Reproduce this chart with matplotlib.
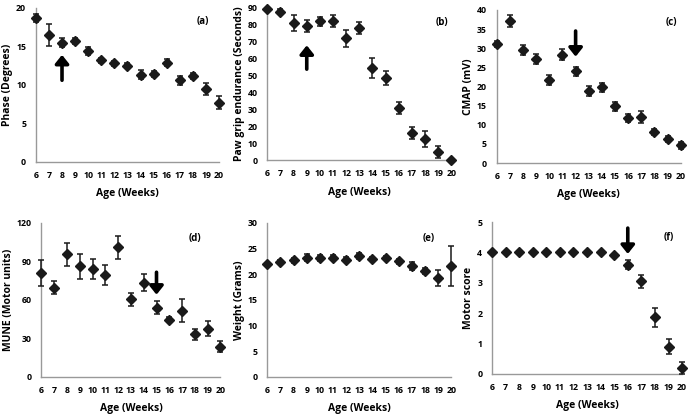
import numpy as np
import matplotlib
matplotlib.use("Agg")
import matplotlib.pyplot as plt

plt.rcParams['font.family'] = ['Open Sans', 'DejaVu Sans']
plt.rcParams['font.weight'] = 'bold'

weeks = np.arange(6, 21)

phase = [18.7, 16.5, 15.5, 15.7, 14.4, 13.2, 12.8, 12.5, 11.3, 11.4, 12.9, 10.6, 11.1, 9.5, 7.7]
phase_err = [0.5, 1.4, 0.6, 0.4, 0.5, 0.3, 0.3, 0.3, 0.6, 0.4, 0.5, 0.6, 0.4, 0.8, 0.8]

grip = [89, 87.2, 80.5, 79, 81.6, 81.6, 71.6, 77.5, 54.3, 48.2, 30.5, 15.8, 12.5, 4.7, 0]
grip_err = [0.5, 1.5, 4.7, 3.5, 2.5, 3.5, 5, 3.5, 6, 4, 3.5, 3.5, 4.5, 3.5, 0]

cmap = [31.1, 37.1, 29.5, 27.1, 21.6, 28.3, 24.0, 18.8, 19.8, 14.8, 11.7, 12.1, 8.1, 6.2, 4.6]
cmap_err = [0.8, 1.5, 1.3, 1.3, 1.3, 1.5, 1.2, 1.4, 1.2, 1.2, 1.0, 1.5, 0.8, 0.8, 0.8]

mune = [81, 69.5, 95.5, 86, 84, 79.5, 101, 60.5, 73.5, 54, 44.5, 51.5, 33, 37.5, 23.5]
mune_err = [10, 5, 9, 10, 8, 8, 9, 5, 7, 5, 2, 9, 4, 6, 4.5]

weight = [21.9, 22.3, 22.7, 23.2, 23.1, 23.2, 22.8, 23.5, 23.0, 23.1, 22.5, 21.6, 20.6, 19.2, 21.6]
weight_err = [0.3, 0.4, 0.5, 0.7, 0.6, 0.5, 0.5, 0.6, 0.4, 0.4, 0.5, 0.8, 0.6, 1.6, 3.9]

motor = [4, 4, 4, 4, 4, 4, 4, 4, 4, 3.9, 3.6, 3.05, 1.86, 0.9, 0.2]
motor_err = [0, 0, 0, 0, 0, 0, 0, 0, 0, 0, 0.15, 0.22, 0.3, 0.25, 0.2]

panels = [
    # values, errors, ylabel, yticks, tag, tag pos, arrow (x, tail, tip), rect
    (phase, phase_err, "Phase (Degrees)", [0, 5, 10, 15, 20], "(a)", (0.91, 0.91),
     (8, 10.6, 13.9), [0.052, 0.610, 0.266, 0.371]),
    (grip, grip_err, "Paw grip endurance (Seconds)", list(range(0, 91, 10)), "(b)", (0.95, 0.90),
     (9, 53.5, 67.5), [0.388, 0.614, 0.267, 0.369]),
    (cmap, cmap_err, "CMAP (mV)", list(range(0, 41, 5)), "(c)", (0.95, 0.915),
     (12, 34.5, 27.8), [0.721, 0.607, 0.267, 0.369]),
    (mune, mune_err, "MUNE (Motor units)", [0, 30, 60, 90, 120], "(d)", (0.86, 0.90),
     (15, 81.5, 64), [0.060, 0.092, 0.260, 0.371]),
    (weight, weight_err, "Weight (Grams)", [0, 5, 10, 15, 20, 25, 30], "(e)", (0.875, 0.90),
     None, [0.388, 0.092, 0.267, 0.371]),
    (motor, motor_err, "Motor score", [0, 1, 2, 3, 4, 5], "(f)", (0.93, 0.895),
     (16, 4.8, 3.95), [0.714, 0.099, 0.276, 0.366]),
]

fig = plt.figure(figsize=(6.89, 4.15), dpi=100)

for vals, errs, ylab, yt, tag, tagpos, arrow, rect in panels:
    ax = fig.add_axes(rect)
    ax.errorbar(weeks, vals, yerr=errs, fmt='D', color='#1a1a1a', ms=5.5,
                ecolor='#1a1a1a', elinewidth=1.1, capsize=2.2, capthick=1.1, clip_on=False, zorder=3)
    ax.set_xlim(6, 20)
    ax.set_ylim(yt[0], yt[-1])
    ax.set_xticks(weeks)
    ax.set_yticks(yt)
    ax.tick_params(length=0, labelsize=6.3, pad=6.5)
    ax.tick_params(axis='y', pad=7)
    for s in ['top', 'right']:
        ax.spines[s].set_visible(False)
    for s in ['left', 'bottom']:
        ax.spines[s].set_color('#999999')
        ax.spines[s].set_linewidth(1)
    ax.set_xlabel("Age (Weeks)", fontsize=7.5, fontweight='bold', labelpad=6)
    ax.set_ylabel(ylab, fontsize=7.5, fontweight='bold', labelpad=2)
    ax.text(tagpos[0], tagpos[1], tag, transform=ax.transAxes, ha='center', va='center',
            fontsize=7, fontweight='bold')
    if arrow is not None:
        ax.annotate('', xy=(arrow[0], arrow[2]), xytext=(arrow[0], arrow[1]),
                    arrowprops=dict(arrowstyle='-|>,head_width=0.4,head_length=0.5',
                                    color='black', lw=2.6, shrinkA=0, shrinkB=0))

fig.savefig("out.png", dpi=100)
